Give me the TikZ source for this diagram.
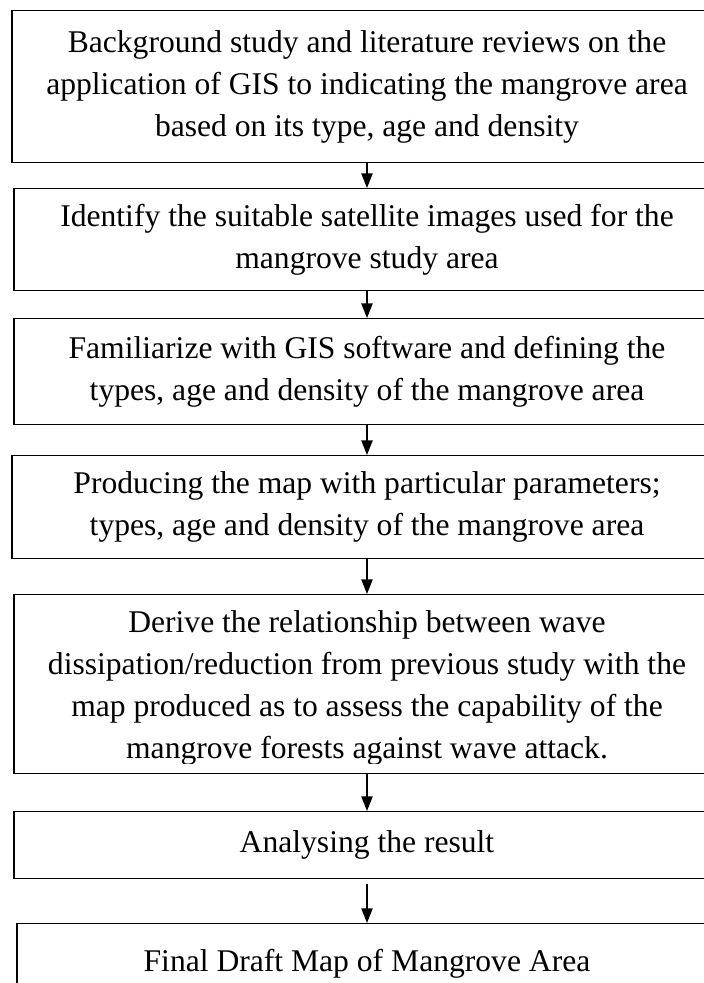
\documentclass[tikz,border=0pt]{standalone}
\usepackage{fontspec}
\setmainfont{Liberation Serif}
\usetikzlibrary{arrows.meta}
\begin{document}
\begin{tikzpicture}[x=0.75pt,y=-0.75pt,
    stage/.style={draw,line width=1pt,anchor=north,align=center,inner sep=0pt,
      font=\fontsize{23.7}{31.5}\selectfont},
    flow/.style={line width=1pt,-{Triangle[length=11pt,width=8.5pt]}}]
    \useasboundingbox (0,0) rectangle (704,983);
    \clip (0,0) rectangle (704,983);
    \node[stage,minimum width=710*0.75pt,minimum height=152*0.75pt] (review) at (367,10)
        {Background study and literature reviews on the\\application of GIS to indicating the mangrove area\\based on its type, age and density};
    \node[stage,minimum width=706*0.75pt,minimum height=102*0.75pt] (images) at (367,188)
        {Identify the suitable satellite images used for the\\mangrove study area};
    \node[stage,minimum width=706*0.75pt,minimum height=106*0.75pt] (software) at (367,318)
        {Familiarize with GIS software and defining the\\types, age and density of the mangrove area};
    \node[stage,minimum width=710*0.75pt,minimum height=103*0.75pt] (mapping) at (367,455)
        {Producing the map with particular parameters;\\types, age and density of the mangrove area};
    \node[stage,minimum width=706*0.75pt,minimum height=179*0.75pt] (derive) at (367,594) {};
    \begin{scope}
        \clip (derive.north west) rectangle ([yshift=8pt]derive.south east);
        \node[stage,draw=none,anchor=center] (derivetext) at (367,688)
            {Derive the relationship between wave\\dissipation/reduction from previous study with the\\map produced as to assess the capability of the\\mangrove forests against wave attack.};
    \end{scope}
    \node[stage,minimum width=706*0.75pt,minimum height=67*0.75pt] (analyse) at (367,811)
        {Analysing the result};
    \node[stage,minimum width=700*0.75pt,minimum height=80*0.75pt] (final) at (367,923)
        {Final Draft Map of Mangrove Area};
    \draw[flow] (review) -- (images);
    \draw[flow] (images) -- (software);
    \draw[flow] (software) -- (mapping);
    \draw[flow] (mapping) -- (derive);
    \draw[flow] (derive) -- (analyse);
    \draw[flow,shorten <=3.75pt] (analyse) -- (final);
\end{tikzpicture}
\end{document}
